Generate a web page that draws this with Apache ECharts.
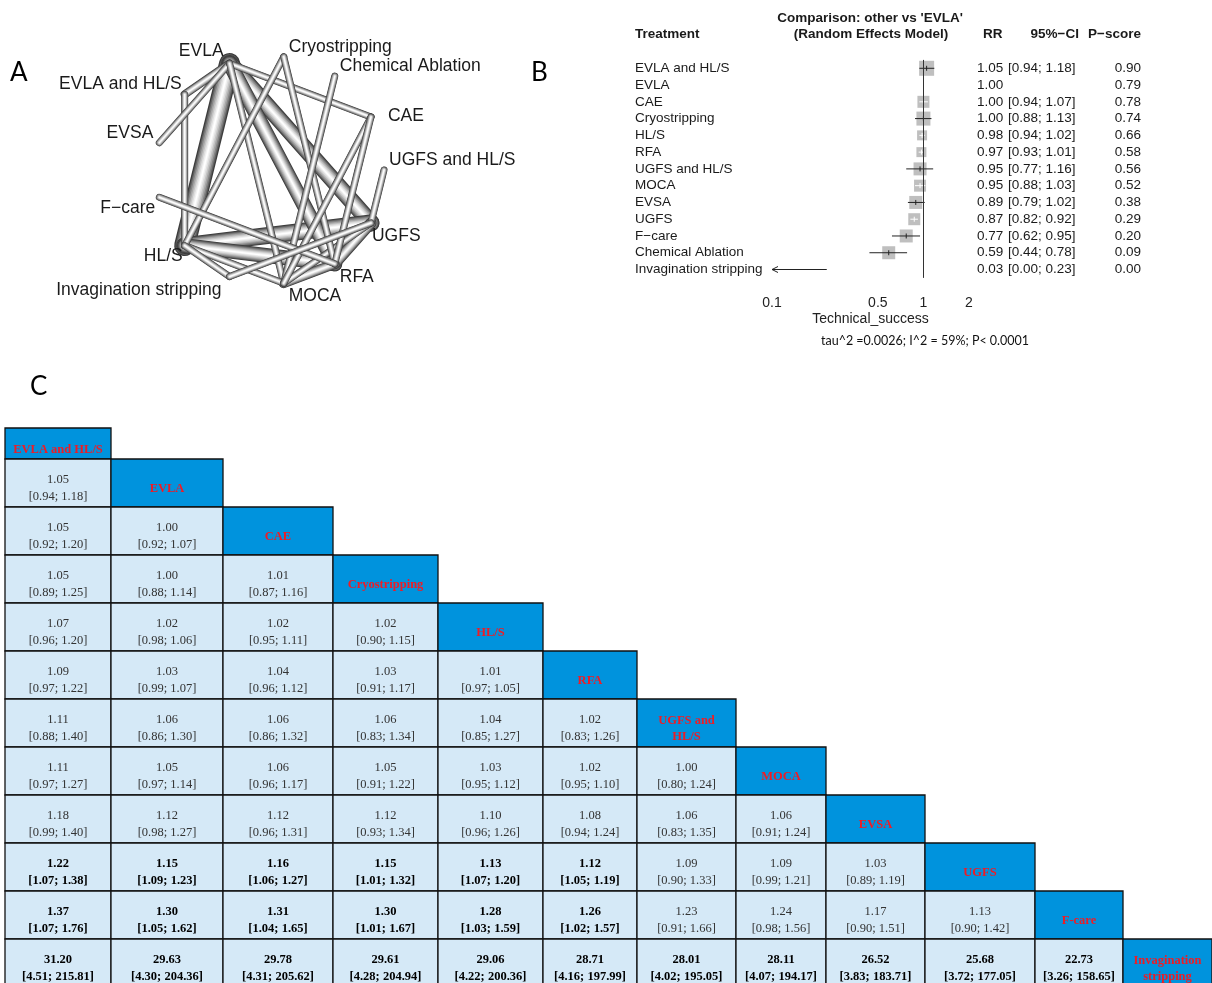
<!DOCTYPE html>
<html>
<head>
<meta charset="utf-8">
<script src="https://cdn.jsdelivr.net/npm/echarts@6/dist/echarts.min.js"></script>
<style>
html, body { margin: 0; padding: 0; background: #fff; }
#main { width: 1212px; height: 983px; }
</style>
</head>
<body>
<div id="main"></div>
<script>
// ---------- A: network (nodes in clockwise order from 3 o'clock) ----------
var netNodes = ['UGFS and HL/S', 'UGFS', 'RFA', 'MOCA', 'Invagination stripping', 'HL/S',
    'F-care', 'EVSA', 'EVLA and HL/S', 'EVLA', 'Cryostripping', 'Chemical Ablation', 'CAE'];
// [treatment, treatment, edge weight (studies)]
var netEdges = [
    ['EVLA', 'HL/S', 21],
    ['EVLA', 'UGFS', 17],
    ['HL/S', 'UGFS', 17],
    ['EVLA', 'RFA', 15],
    ['HL/S', 'RFA', 15],
    ['RFA', 'UGFS', 11],
    ['MOCA', 'RFA', 10],
    ['EVLA', 'EVLA and HL/S', 8],
    ['EVLA and HL/S', 'HL/S', 7],
    ['EVLA', 'EVSA', 7],
    ['EVLA', 'CAE', 7],
    ['EVLA', 'MOCA', 7],
    ['HL/S', 'MOCA', 7],
    ['MOCA', 'UGFS', 7],
    ['Cryostripping', 'HL/S', 7],
    ['Cryostripping', 'RFA', 7],
    ['Chemical Ablation', 'MOCA', 7],
    ['CAE', 'MOCA', 7],
    ['CAE', 'RFA', 7],
    ['UGFS and HL/S', 'UGFS', 7],
    ['F-care', 'RFA', 7],
    ['Invagination stripping', 'HL/S', 7],
    ['Invagination stripping', 'UGFS', 7]
];

// ---------- B: forest plot, other vs 'EVLA' ----------
var forestNames = ['EVLA and HL/S', 'EVLA', 'CAE', 'Cryostripping', 'HL/S', 'RFA', 'UGFS and HL/S',
    'MOCA', 'EVSA', 'UGFS', 'F-care', 'Chemical Ablation', 'Invagination stripping'];
var forestRR = [1.05, 1.00, 1.00, 1.00, 0.98, 0.97, 0.95, 0.95, 0.89, 0.87, 0.77, 0.59, 0.03];
var forestLo = [0.94, null, 0.94, 0.88, 0.94, 0.93, 0.77, 0.88, 0.79, 0.82, 0.62, 0.44, 0.00];
var forestHi = [1.18, null, 1.07, 1.13, 1.02, 1.01, 1.16, 1.03, 1.02, 0.92, 0.95, 0.78, 0.23];
var pScore = [0.90, 0.79, 0.78, 0.74, 0.66, 0.58, 0.56, 0.52, 0.38, 0.29, 0.20, 0.09, 0.00];
var forestWeight = [15, 0, 12, 14, 10, 10, 13, 12, 13, 12, 13, 13, 0];
var forestTicks = [0.1, 0.5, 1, 2];

// ---------- C: league table (row i, column j < i) ----------
var leagueNames = ['EVLA and HL/S', 'EVLA', 'CAE', 'Cryostripping', 'HL/S', 'RFA', 'UGFS and HL/S',
    'MOCA', 'EVSA', 'UGFS', 'F-care', 'Invagination stripping'];
var leagueRR = [
    [],
    [1.05],
    [1.05, 1.00],
    [1.05, 1.00, 1.01],
    [1.07, 1.02, 1.02, 1.02],
    [1.09, 1.03, 1.04, 1.03, 1.01],
    [1.11, 1.06, 1.06, 1.06, 1.04, 1.02],
    [1.11, 1.05, 1.06, 1.05, 1.03, 1.02, 1.00],
    [1.18, 1.12, 1.12, 1.12, 1.10, 1.08, 1.06, 1.06],
    [1.22, 1.15, 1.16, 1.15, 1.13, 1.12, 1.09, 1.09, 1.03],
    [1.37, 1.30, 1.31, 1.30, 1.28, 1.26, 1.23, 1.24, 1.17, 1.13],
    [31.20, 29.63, 29.78, 29.61, 29.06, 28.71, 28.01, 28.11, 26.52, 25.68, 22.73]
];
var leagueLo = [
    [],
    [0.94],
    [0.92, 0.92],
    [0.89, 0.88, 0.87],
    [0.96, 0.98, 0.95, 0.90],
    [0.97, 0.99, 0.96, 0.91, 0.97],
    [0.88, 0.86, 0.86, 0.83, 0.85, 0.83],
    [0.97, 0.97, 0.96, 0.91, 0.95, 0.95, 0.80],
    [0.99, 0.98, 0.96, 0.93, 0.96, 0.94, 0.83, 0.91],
    [1.07, 1.09, 1.06, 1.01, 1.07, 1.05, 0.90, 0.99, 0.89],
    [1.07, 1.05, 1.04, 1.01, 1.03, 1.02, 0.91, 0.98, 0.90, 0.90],
    [4.51, 4.30, 4.31, 4.28, 4.22, 4.16, 4.02, 4.07, 3.83, 3.72, 3.26]
];
var leagueHi = [
    [],
    [1.18],
    [1.20, 1.07],
    [1.25, 1.14, 1.16],
    [1.20, 1.06, 1.11, 1.15],
    [1.22, 1.07, 1.12, 1.17, 1.05],
    [1.40, 1.30, 1.32, 1.34, 1.27, 1.26],
    [1.27, 1.14, 1.17, 1.22, 1.12, 1.10, 1.24],
    [1.40, 1.27, 1.31, 1.34, 1.26, 1.24, 1.35, 1.24],
    [1.38, 1.23, 1.27, 1.32, 1.20, 1.19, 1.33, 1.21, 1.19],
    [1.76, 1.62, 1.65, 1.67, 1.59, 1.57, 1.66, 1.56, 1.51, 1.42],
    [215.81, 204.36, 205.62, 204.94, 200.36, 197.99, 195.05, 194.17, 183.71, 177.05, 158.65]
];

// layout of panel C (table units = px from the table's top-left corner)
var colEdges = [0, 106, 218, 328, 433, 538, 632, 731, 821, 920, 1030, 1118, 1207];
var rowEdges = [0, 31, 79, 127, 175, 223, 271, 319, 367, 415, 463, 511, 559];
// label placement around the network circle: [dx, dy, align]
var netLabelPos = [[5, -10, 'left'], [1, 13, 'left'], [5, 13, 'left'], [5, 13, 'left'],
    [-8, 14, 'right'], [-2, 11, 'right'], [-4, 11, 'right'], [-6, -10, 'right'],
    [-3, -10, 'right'], [-6, -12, 'right'], [5, -10, 'left'], [5, -10, 'left'], [17, -1, 'left']];

var SANS = '"Liberation Sans", Arial, sans-serif';
var SERIF = '"Liberation Serif", "Times New Roman", serif';
var HEAD_FONT = 'bold 12.5px ' + SERIF;
function rMinus(s) { return s.replace('-', '\u2212'); }

// word wrap for the header cells
var measureCtx = document.createElement('canvas').getContext('2d');
function wrapWords(text, font, maxW) {
    measureCtx.font = font;
    var words = text.split(' '), lines = [], cur = '';
    words.forEach(function (wd) {
        var test = cur ? cur + ' ' + wd : wd;
        if (cur && measureCtx.measureText(test).width > maxW) { lines.push(cur); cur = wd; }
        else cur = test;
    });
    lines.push(cur);
    return lines.join('\n');
}

var chart = echarts.init(document.getElementById('main'));

// tube shading of the network edges
var tubeLayers = [[1.0, '#3c3c3c'], [0.88, '#606060'], [0.76, '#848484'], [0.62, '#a6a6a6'],
    [0.48, '#c4c4c4'], [0.34, '#dedede'], [0.2, '#f2f2f2'], [0.08, '#ffffff']];
var edgeData = netEdges.slice().sort(function (a, b) { return b[2] - a[2]; }).map(function (e) {
    return [1, netNodes.indexOf(e[0]), netNodes.indexOf(e[1]), e[2]];
});

var tableCells = [];
leagueNames.forEach(function (name, i) {
    for (var j = 0; j < i; j++) {
        var lo = leagueLo[i][j], hi = leagueHi[i][j];
        tableCells.push({
            col: j, row: i, header: false,
            text: leagueRR[i][j].toFixed(2) + '\n[' + lo.toFixed(2) + '; ' + hi.toFixed(2) + ']',
            bold: lo > 1 || hi < 1
        });
    }
    tableCells.push({ col: i, row: i, header: true, text: name });
});

var option = {
    animation: false,
    backgroundColor: '#fff',
    textStyle: { fontFamily: SANS },
    polar: { center: [270, 170], radius: 114 },
    angleAxis: { type: 'value', min: 0, max: netNodes.length, startAngle: 0, clockwise: true, show: false },
    radiusAxis: { type: 'value', min: 0, max: 1, show: false },
    grid: [
        { left: 772, top: 59.9, width: 197, height: 218, outerBoundsMode: 'none' },
        { left: 5, top: 428, width: 1207, height: 559, outerBoundsMode: 'none' }
    ],
    xAxis: [
        {
            gridIndex: 0, type: 'log', logBase: 10, min: 0.1, max: 2,
            name: 'Technical_success', nameLocation: 'middle', nameGap: 34,
            nameTextStyle: { fontSize: 14, color: '#222', fontFamily: SANS },
            axisLine: { lineStyle: { color: '#333', width: 1 } },
            axisTick: { customValues: forestTicks, length: 8, lineStyle: { color: '#333' } },
            axisLabel: { customValues: forestTicks, margin: 18, fontSize: 14, color: '#222', fontFamily: SANS,
                formatter: function (v) { return String(v); } },
            splitLine: { show: false }, minorTick: { show: false }
        },
        { gridIndex: 1, type: 'value', min: 0, max: 1207, show: false }
    ],
    yAxis: [
        {
            gridIndex: 0, type: 'category', inverse: true, data: forestNames.map(rMinus),
            axisLine: { show: false }, axisTick: { show: false },
            axisLabel: { interval: 0, margin: 137, align: 'left', fontSize: 13.5, color: '#1a1a1a', fontFamily: SANS }
        },
        {
            gridIndex: 0, type: 'category', inverse: true, position: 'right', data: forestNames,
            axisLine: { show: false }, axisTick: { show: false },
            axisLabel: { interval: 0, margin: 8, align: 'left', fontSize: 13.5, color: '#1a1a1a', fontFamily: SANS,
                formatter: function (v, i) { return forestRR[i].toFixed(2); } }
        },
        {
            gridIndex: 0, type: 'category', inverse: true, position: 'right', data: forestNames,
            axisLine: { show: false }, axisTick: { show: false },
            axisLabel: { interval: 0, margin: 39, align: 'left', fontSize: 13.5, color: '#1a1a1a', fontFamily: SANS,
                formatter: function (v, i) {
                    return forestLo[i] == null ? '' : '[' + forestLo[i].toFixed(2) + '; ' + forestHi[i].toFixed(2) + ']';
                } }
        },
        {
            gridIndex: 0, type: 'category', inverse: true, position: 'right', data: forestNames,
            axisLine: { show: false }, axisTick: { show: false },
            axisLabel: { interval: 0, margin: 172, align: 'right', fontSize: 13.5, color: '#1a1a1a', fontFamily: SANS,
                formatter: function (v, i) { return pScore[i].toFixed(2); } }
        },
        { gridIndex: 1, type: 'value', inverse: true, min: 0, max: 559, show: false }
    ],
    graphic: [
        { type: 'text', x: 10, y: 73, style: { text: 'A', font: '26px Lato, sans-serif', fill: '#000', verticalAlign: 'middle' } },
        { type: 'text', x: 531, y: 73, style: { text: 'B', font: '26px Lato, sans-serif', fill: '#000', verticalAlign: 'middle' } },
        { type: 'text', x: 30, y: 387, style: { text: 'C', font: '26px Lato, sans-serif', fill: '#000', verticalAlign: 'middle' } },
        { type: 'text', x: 870, y: 18, style: { text: "Comparison: other vs 'EVLA'", font: 'bold 13.5px ' + SANS, fill: '#1a1a1a', align: 'center', verticalAlign: 'middle' } },
        { type: 'text', x: 871, y: 34, style: { text: '(Random Effects Model)', font: 'bold 13.5px ' + SANS, fill: '#1a1a1a', align: 'center', verticalAlign: 'middle' } },
        { type: 'text', x: 635, y: 34, style: { text: 'Treatment', font: 'bold 13.5px ' + SANS, fill: '#1a1a1a', verticalAlign: 'middle' } },
        { type: 'text', x: 983, y: 34, style: { text: 'RR', font: 'bold 13.5px ' + SANS, fill: '#1a1a1a', verticalAlign: 'middle' } },
        { type: 'text', x: 1079, y: 34, style: { text: '95%\u2212CI', font: 'bold 13.5px ' + SANS, fill: '#1a1a1a', align: 'right', verticalAlign: 'middle' } },
        { type: 'text', x: 1141, y: 34, style: { text: 'P\u2212score', font: 'bold 13.5px ' + SANS, fill: '#1a1a1a', align: 'right', verticalAlign: 'middle' } },
        { type: 'text', x: 925, y: 341, style: { text: 'tau^2 =0.0026; I^2 = 59%; P< 0.0001', font: '12.5px Lato, sans-serif', fill: '#111', align: 'center', verticalAlign: 'middle' } }
    ],
    series: [
        {
            // network edges
            type: 'custom', coordinateSystem: 'polar', polarIndex: 0,
            data: edgeData, encode: { radius: 0, angle: 1 },
            renderItem: function (params, api) {
                var a = api.coord([1, api.value(1)]);
                var b = api.coord([1, api.value(2)]);
                var w = api.value(3);
                return {
                    type: 'group',
                    children: tubeLayers.map(function (l) {
                        return {
                            type: 'line',
                            shape: { x1: a[0], y1: a[1], x2: b[0], y2: b[1] },
                            style: { stroke: l[1], lineWidth: Math.max(w * l[0], 0.8), lineCap: 'round' }
                        };
                    })
                };
            }
        },
        {
            // network labels
            type: 'custom', coordinateSystem: 'polar', polarIndex: 0,
            data: netNodes.map(function (n, i) { return [1, i]; }), encode: { radius: 0, angle: 1 },
            renderItem: function (params, api) {
                var i = params.dataIndex;
                var p = api.coord([1, api.value(1)]);
                var lp = netLabelPos[i];
                return {
                    type: 'text',
                    style: {
                        text: rMinus(netNodes[i]), x: p[0] + lp[0], y: p[1] + lp[1],
                        align: lp[2], verticalAlign: 'middle',
                        font: '17.5px ' + SANS, fill: '#1a1a1a'
                    }
                };
            }
        },
        {
            // forest plot
            type: 'custom', xAxisIndex: 0, yAxisIndex: 0,
            data: forestNames.map(function (n, i) { return [forestRR[i], i]; }),
            markLine: {
                silent: true, symbol: 'none', label: { show: false },
                lineStyle: { color: '#333', width: 1, type: 'solid' },
                data: [{ xAxis: 1 }]
            },
            renderItem: function (params, api) {
                var i = params.dataIndex;
                if (forestLo[i] == null) return null;
                var lo = Math.max(forestLo[i], 0.1), hi = Math.min(forestHi[i], 2);
                var pl = api.coord([lo, i]), ph = api.coord([hi, i]);
                var children = [];
                if (forestRR[i] < 0.1) {
                    children.push({ type: 'line', shape: { x1: ph[0], y1: ph[1], x2: pl[0], y2: pl[1] }, style: { stroke: '#222', lineWidth: 1 } });
                    children.push({ type: 'polyline', shape: { points: [[pl[0] + 6, pl[1] - 3], [pl[0], pl[1]], [pl[0] + 6, pl[1] + 3]] }, style: { stroke: '#222', lineWidth: 1, fill: null } });
                } else {
                    var c = api.coord([forestRR[i], i]);
                    var half = forestWeight[i] / 2;
                    children.push({ type: 'rect', shape: { x: c[0] - half, y: c[1] - half, width: 2 * half, height: 2 * half }, style: { fill: '#bfbfbf' } });
                    var inside = pl[0] >= c[0] - half && ph[0] <= c[0] + half;
                    var col = inside ? '#ffffff' : '#222';
                    children.push({ type: 'line', shape: { x1: pl[0], y1: pl[1], x2: ph[0], y2: ph[1] }, style: { stroke: col, lineWidth: 1 } });
                    children.push({ type: 'line', shape: { x1: c[0], y1: c[1] - 2.5, x2: c[0], y2: c[1] + 2.5 }, style: { stroke: col, lineWidth: 1 } });
                }
                return { type: 'group', children: children };
            }
        },
        {
            // league table
            type: 'custom', xAxisIndex: 1, yAxisIndex: 4,
            data: tableCells.map(function (c) { return [c.col, c.row]; }),
            renderItem: function (params, api) {
                var cell = tableCells[params.dataIndex];
                var p0 = api.coord([colEdges[cell.col], rowEdges[cell.row]]);
                var p1 = api.coord([colEdges[cell.col + 1], rowEdges[cell.row + 1]]);
                var w = p1[0] - p0[0], h = p1[1] - p0[1];
                var cx = p0[0] + w / 2, cy = p0[1] + h / 2;
                var txt = cell.header ? {
                    text: wrapWords(cell.text, HEAD_FONT, w - 12), x: cx, y: cy + 6, align: 'center', verticalAlign: 'middle',
                    font: HEAD_FONT, fill: '#ee1c25', lineHeight: 16
                } : {
                    text: cell.text, x: cx, y: cy + 5, align: 'center', verticalAlign: 'middle',
                    font: (cell.bold ? 'bold ' : '') + '12.5px ' + SERIF, fill: cell.bold ? '#000' : '#333', lineHeight: 17
                };
                return {
                    type: 'group',
                    children: [
                        { type: 'rect', shape: { x: p0[0], y: p0[1], width: w, height: h },
                          style: { fill: cell.header ? '#0093dd' : '#d5e9f7', stroke: '#111', lineWidth: 1.3 } },
                        { type: 'text', style: txt }
                    ]
                };
            }
        }
    ]
};
chart.setOption(option);
</script>
</body>
</html>
